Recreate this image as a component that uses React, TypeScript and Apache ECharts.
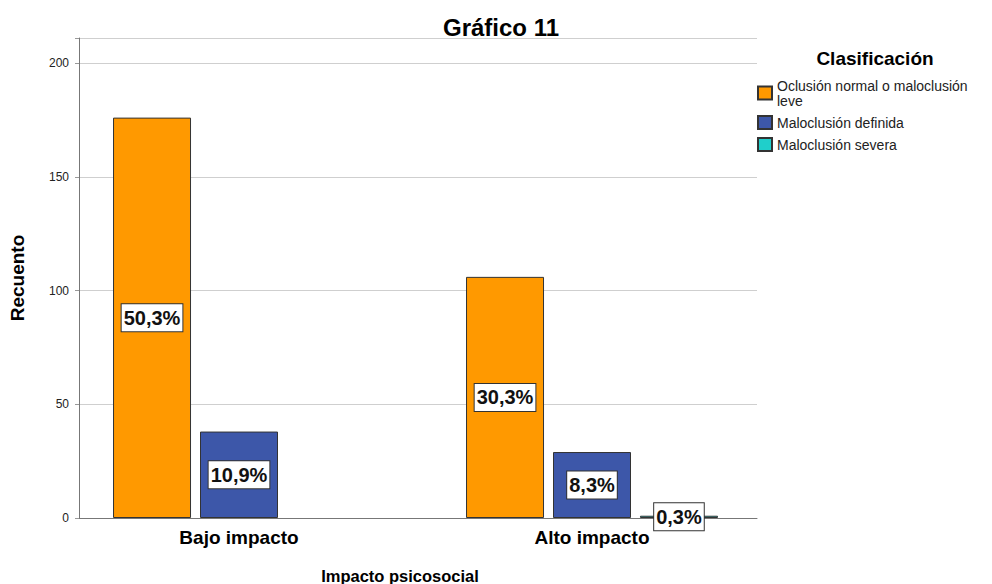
import React, { useEffect, useRef } from "react";
import * as echarts from "echarts";

const categories = ["Bajo impacto", "Alto impacto"];
const seriesNames = [
  "Oclusión normal o maloclusión leve",
  "Maloclusión definida",
  "Maloclusión severa",
];
const normalValues = [176, 106];
const definidaValues = [38, 29];
const severaValues: (number | null)[] = [null, 1];
const yTicks = [0, 50, 100, 150, 200];
const colors = ["#FF9900", "#3D57A9", "#1FCFCB"];

const FONT = "'Liberation Sans', Arial, sans-serif";

export default function App() {
  const ref = useRef<HTMLDivElement>(null);
  useEffect(() => {
    if (!ref.current) return;
    const chart = echarts.init(ref.current, null, { renderer: "svg" });
    const total = [...normalValues, ...definidaValues, ...severaValues].reduce(
      (a: number, b) => a + (b ?? 0),
      0
    );
    const yMax = 211;
    const mkLabel = () => ({
      show: true,
      position: "inside",
      formatter: (p: any) =>
        ((p.value / total) * 100).toFixed(1).replace(".", ",") + "%",
      backgroundColor: "#fff",
      borderColor: "#333",
      borderWidth: 1,
      padding: [4, 2, 3, 2],
      fontSize: 20,
      fontWeight: "bold",
      color: "#111",
      fontFamily: FONT,
    });
    const values = [normalValues, definidaValues, severaValues];
    chart.setOption({
      animation: false,
      textStyle: { fontFamily: FONT },
      grid: [
        { left: 62.5, width: 706, top: 38, height: 480 },
        { left: 75, width: 682, top: 38, height: 480 },
      ],
      xAxis: [
        {
          type: "category",
          gridIndex: 0,
          data: categories,
          axisLine: { show: false },
          axisTick: { show: false },
          axisLabel: {
            fontSize: 19,
            fontWeight: "bold",
            color: "#000",
            margin: 10,
            fontFamily: FONT,
          },
        },
        {
          type: "value",
          gridIndex: 1,
          min: 0,
          max: 1,
          axisLine: { show: true, lineStyle: { color: "#777", width: 1 } },
          axisTick: { show: false },
          axisLabel: { show: false },
          splitLine: { show: false },
        },
      ],
      yAxis: [
        {
          type: "value",
          gridIndex: 0,
          min: 0,
          max: yMax,
          show: false,
          splitLine: { show: false },
        },
        {
          type: "value",
          gridIndex: 1,
          min: 0,
          max: yMax,
          interval: 50,
          axisLine: { show: true, lineStyle: { color: "#777", width: 1 } },
          axisTick: { show: true, length: 4, lineStyle: { color: "#999" } },
          axisLabel: {
            fontSize: 12,
            color: "#222",
            margin: 10,
            fontFamily: FONT,
            formatter: (v: number) => (yTicks.includes(v) ? String(v) : ""),
          },
          splitLine: { show: true, lineStyle: { color: "#cfcfcf", width: 1 } },
          name: "Recuento",
          nameLocation: "middle",
          nameGap: 52,
          nameTextStyle: {
            fontSize: 19,
            fontWeight: "bold",
            color: "#000",
            fontFamily: FONT,
          },
        },
      ],
      legend: {
        orient: "vertical",
        left: 757,
        top: 78,
        padding: 0,
        itemWidth: 14,
        itemHeight: 13,
        itemGap: 7,
        icon: "rect",
        data: seriesNames,
        formatter: (n: string) =>
          n === seriesNames[0] ? "Oclusión normal o maloclusión\nleve" : n,
        textStyle: {
          fontSize: 14,
          lineHeight: 15,
          color: "#222",
          fontFamily: FONT,
        },
      },
      graphic: [
        {
          type: "text",
          x: 501,
          y: 27,
          style: {
            text: "Gráfico 11",
            fontSize: 24,
            fontWeight: "bold",
            fill: "#000",
            fontFamily: FONT,
            textAlign: "center",
            textVerticalAlign: "middle",
          },
        },
        {
          type: "text",
          x: 875,
          y: 58,
          style: {
            text: "Clasificación",
            fontSize: 19,
            fontWeight: "bold",
            fill: "#000",
            fontFamily: FONT,
            textAlign: "center",
            textVerticalAlign: "middle",
          },
        },
        {
          type: "text",
          x: 400,
          y: 576,
          style: {
            text: "Impacto psicosocial",
            fontSize: 16.5,
            fontWeight: "bold",
            fill: "#000",
            fontFamily: FONT,
            textAlign: "center",
            textVerticalAlign: "middle",
          },
        },
      ],
      series: [
        ...seriesNames.map((name, i) => ({
          name,
          type: "bar",
          xAxisIndex: 0,
          yAxisIndex: 0,
          data: values[i],
          barWidth: 78,
          barGap: "11.5%",
          itemStyle: { color: colors[i], borderColor: "#333", borderWidth: 1 },
          label: mkLabel(),
          z: 3,
        })),
        {
          type: "line",
          xAxisIndex: 1,
          yAxisIndex: 1,
          data: [],
          silent: true,
        },
      ],
    });
    return () => chart.dispose();
  }, []);
  return (
    <div
      ref={ref}
      style={{
        position: "fixed",
        left: 0,
        top: 0,
        width: 992,
        height: 584,
        background: "#fff",
      }}
    />
  );
}
